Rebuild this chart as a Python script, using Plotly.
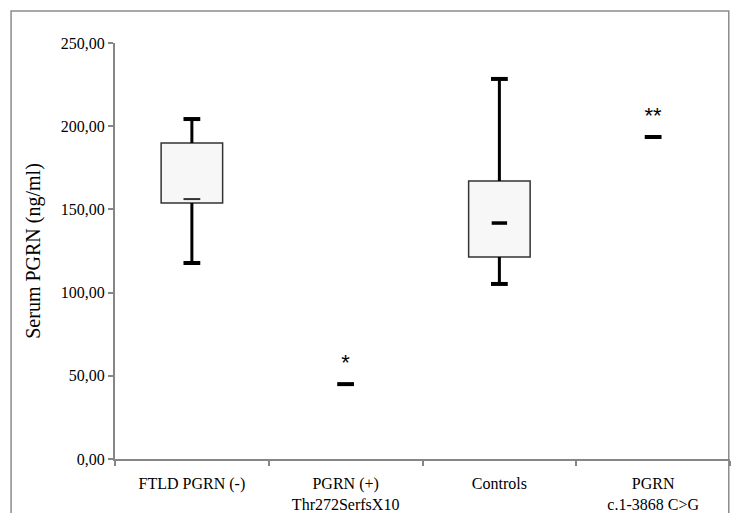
import plotly.graph_objects as go

# Serum progranulin by group (ng/ml)
categories = ["FTLD PGRN (-)", "PGRN (+)<br>Thr272SerfsX10", "Controls", "PGRN<br>c.1-3868 C>G"]

# Box-plot groups: whisker min, Q1, median, Q3, whisker max
box_groups = ["FTLD PGRN (-)", "Controls"]
box_min = [117.8, 105.2]
box_q1 = [153.8, 121.4]
box_median = [156.2, 141.8]
box_q3 = [189.9, 167.1]
box_max = [204.3, 228.4]

# Single-patient values with significance marks
single_groups = ["PGRN (+)<br>Thr272SerfsX10", "PGRN<br>c.1-3868 C>G"]
single_values = [45.0, 193.5]
single_marks = ["*", "**"]

y_ticks = [0, 50, 100, 150, 200, 250]

fig = go.Figure()

# boxes (Q1..Q3)
fig.add_trace(go.Bar(
    x=box_groups,
    y=[q3 - q1 for q1, q3 in zip(box_q1, box_q3)],
    base=box_q1,
    width=0.4,
    marker=dict(color="#f7f7f7", line=dict(color="#333333", width=1.5)),
    hoverinfo="skip",
))

# whiskers
for g, lo, q1, q3, hi in zip(box_groups, box_min, box_q1, box_q3, box_max):
    for a, b in ((lo, q1), (q3, hi)):
        fig.add_trace(go.Scatter(
            x=[g, g], y=[a, b], mode="lines",
            line=dict(color="black", width=3), hoverinfo="skip",
        ))

# whisker caps
fig.add_trace(go.Scatter(
    x=box_groups + box_groups, y=box_min + box_max, mode="markers",
    marker=dict(symbol="line-ew", size=12, line=dict(color="black", width=4)),
    hoverinfo="skip",
))

# medians
fig.add_trace(go.Scatter(
    x=[box_groups[0]], y=[box_median[0]], mode="markers",
    marker=dict(symbol="line-ew", size=12, line=dict(color="#333333", width=2)),
    hoverinfo="skip",
))
fig.add_trace(go.Scatter(
    x=[box_groups[1]], y=[box_median[1]], mode="markers",
    marker=dict(symbol="line-ew", size=11, line=dict(color="black", width=3.5)),
    hoverinfo="skip",
))

# single values with significance asterisks
fig.add_trace(go.Scatter(
    x=single_groups, y=single_values, mode="markers+text",
    marker=dict(symbol="line-ew", size=12, line=dict(color="black", width=4)),
    text=single_marks, textposition="top center",
    textfont=dict(family="Liberation Sans", size=22, color="black"),
    hoverinfo="skip",
))

# chart frame
fig.add_shape(type="rect", xref="paper", yref="paper",
              x0=-0.169, x1=0.998, y0=-0.2, y1=1.077,
              line=dict(color="#8c8c8c", width=1.5), layer="below")

fig.update_layout(
    width=749, height=513,
    margin=dict(l=115, r=19, t=43, b=54),
    paper_bgcolor="white", plot_bgcolor="white",
    showlegend=False,
    separators=",.",
    font=dict(family="Liberation Serif", color="black", size=16),
    xaxis=dict(
        type="category", categoryorder="array", categoryarray=categories,
        tickmode="array", tickvals=categories, ticktext=categories,
        range=[-0.5, 3.5], tickson="boundaries", automargin=False,
        showline=True, linecolor="#868686", linewidth=2,
        ticks="outside", ticklen=5, tickcolor="#868686", tickwidth=2,
        ticklabelstandoff=9,
        showgrid=False, tickfont=dict(size=16),
    ),
    yaxis=dict(
        range=[0, 250], tickvals=y_ticks, tickformat=".2f", automargin=False,
        showline=True, linecolor="#868686", linewidth=2,
        ticks="outside", ticklen=5, tickcolor="#868686", tickwidth=2,
        showgrid=False, zeroline=False, tickfont=dict(size=16),
        title=dict(text="Serum PGRN (ng/ml)", font=dict(size=20)),
    ),
)

fig.write_html("out.html")
